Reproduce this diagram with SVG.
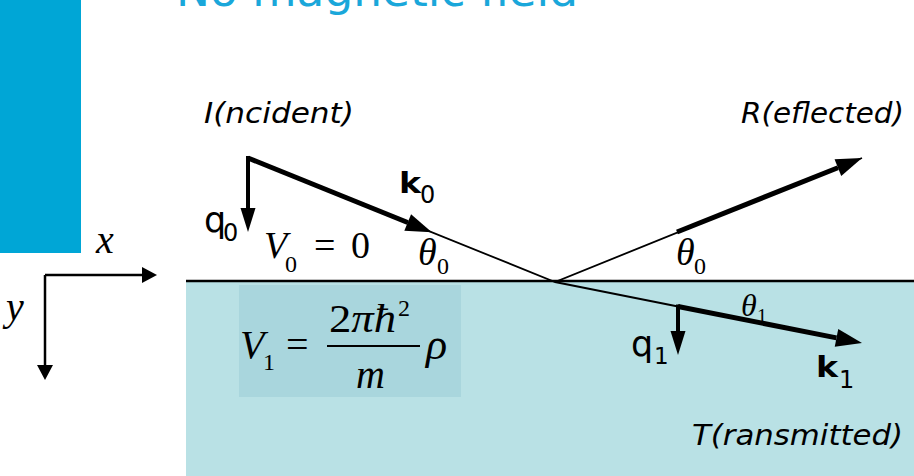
<svg xmlns="http://www.w3.org/2000/svg" width="914" height="476" viewBox="0 0 914 476">
<defs>
<style>
.sans{font-family:"DejaVu Sans","Liberation Sans",sans-serif;fill:#000}
.it{font-style:italic}
.serif{font-family:"Liberation Serif","DejaVu Serif",serif;fill:#000}
.thin{stroke:#000;stroke-width:1.8;fill:none}
.thick{stroke:#000;stroke-width:5;fill:none}
.mid{stroke:#000;stroke-width:4;fill:none}
.axis{stroke:#000;stroke-width:2.5;fill:none}
</style>
<marker id="headBig" markerUnits="userSpaceOnUse" markerWidth="30" markerHeight="22" refX="0" refY="9" orient="auto" overflow="visible">
<path d="M0,0 L26,9 L0,18 Z" fill="#000"/>
</marker>
<marker id="headQ" markerUnits="userSpaceOnUse" markerWidth="26" markerHeight="16" refX="0" refY="7.5" orient="auto" overflow="visible">
<path d="M0,0 L24,7.5 L0,15 Z" fill="#000"/>
</marker>
<marker id="headAx" markerUnits="userSpaceOnUse" markerWidth="16" markerHeight="16" refX="0" refY="8" orient="auto" overflow="visible">
<path d="M0,0 L15,8 L0,16 Z" fill="#000"/>
</marker>
</defs>
<rect x="0" y="0" width="914" height="476" fill="#fff"/>
<g id="title">
<rect x="0" y="0" width="81" height="253" fill="#00a6d6"/>
<text x="176" y="6" font-family="'DejaVu Sans',sans-serif" font-size="44" fill="#1aa7da" textLength="402" lengthAdjust="spacingAndGlyphs">No magnetic field</text>
</g>
<g id="medium">
<rect x="186" y="282" width="728" height="194" fill="#b9e1e5"/>
<rect x="239" y="285" width="222" height="112" fill="#a9d6dd"/>
<line x1="186" y1="281" x2="914" y2="281" stroke="#000" stroke-width="2.5"/>
</g>
<g id="axes">
<text class="serif it" x="96" y="253" font-size="40">x</text>
<text class="serif it" x="6" y="320" font-size="40">y</text>
</g>
<g id="labels">
<text class="sans it" x="204" y="123" font-size="28" textLength="150" lengthAdjust="spacingAndGlyphs">I(ncident)</text>
<text class="sans it" x="741" y="123" font-size="28" textLength="163" lengthAdjust="spacingAndGlyphs">R(eflected)</text>
<text class="sans it" x="692" y="445" font-size="28" textLength="211" lengthAdjust="spacingAndGlyphs">T(ransmitted)</text>
<text class="sans" x="204" y="232" font-size="35">q</text>
<text class="sans" x="223" y="241" font-size="24">0</text>
<text class="sans" x="631" y="356" font-size="35">q</text>
<text class="sans" x="654" y="364" font-size="23">1</text>
<text class="sans" x="399" y="193" font-size="28" font-weight="bold" textLength="22" lengthAdjust="spacingAndGlyphs">k</text>
<text class="sans" x="420" y="203" font-size="24">0</text>
<text class="sans" x="816" y="377" font-size="28" font-weight="bold" textLength="22" lengthAdjust="spacingAndGlyphs">k</text>
<text class="sans" x="839" y="388" font-size="24">1</text>
</g>
<g id="equations">
<text class="serif it" x="264" y="258" font-size="38">V</text>
<text class="serif" x="285" y="272" font-size="24">0</text>
<text class="serif" x="314" y="258" font-size="38">=</text>
<text class="serif" x="351" y="258" font-size="38">0</text>
<text class="serif it" x="418" y="265" font-size="38">θ</text>
<text class="serif" x="437" y="274" font-size="24">0</text>
<text class="serif it" x="676" y="265" font-size="38">θ</text>
<text class="serif" x="694" y="274" font-size="24">0</text>
<text class="serif it" x="741" y="316" font-size="32">θ</text>
<text class="serif" x="757" y="323" font-size="20">1</text>
<text class="serif it" x="240" y="358" font-size="40">V</text>
<text class="serif" x="263" y="370" font-size="24">1</text>
<text class="serif" x="286" y="358" font-size="40">=</text>
<text class="serif" x="329" y="332" font-size="40" textLength="67" lengthAdjust="spacingAndGlyphs">2<tspan font-style="italic">πħ</tspan></text>
<text class="serif" x="398" y="316" font-size="24">2</text>
<line x1="327" y1="346" x2="420" y2="346" stroke="#000" stroke-width="2"/>
<text class="serif it" x="356" y="388" font-size="40">m</text>
<text class="serif it" x="426" y="359" font-size="44">ρ</text>
</g>
<g id="connectors">
<path class="axis" d="M45,275 L142,275" marker-end="url(#headAx)"/>
<path class="axis" d="M45,275 L45,365" marker-end="url(#headAx)"/>
<path class="thin" d="M248,158 L555,282 L862,158"/>
<path class="thin" d="M555,282 L678,306.5"/>
<path class="thick" d="M248,158 L407.7,222.5" marker-end="url(#headBig)"/>
<path class="thick" d="M677,232 L837.9,167.7" marker-end="url(#headBig)"/>
<path class="thick" d="M678,306.5 L836.5,337.9" marker-end="url(#headBig)"/>
<path class="mid" d="M248,156 L248,208" marker-end="url(#headQ)"/>
<path class="mid" d="M678,304.5 L678,331" marker-end="url(#headQ)"/>
</g>
</svg>
